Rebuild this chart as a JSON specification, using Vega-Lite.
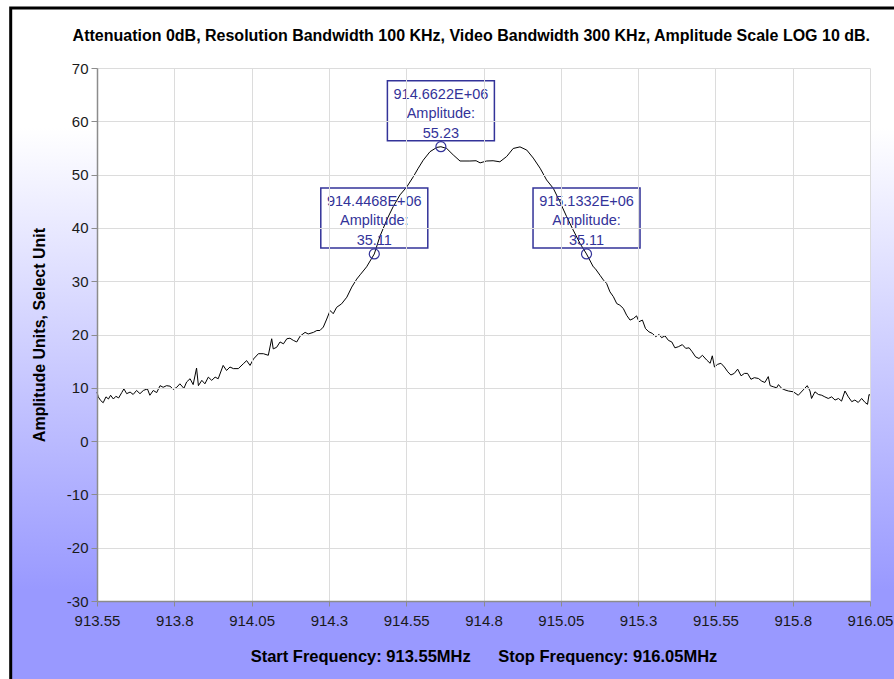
{
  "$schema": "https://vega.github.io/schema/vega-lite/v6.json",
  "width": 773,
  "height": 533,
  "autosize": {"type": "none"},
  "padding": {"left": 97, "top": 68, "right": 24, "bottom": 78},
  "background": "white",
  "config": {
    "view": {"stroke": null},
    "font": "Liberation Sans",
    "axis": {
      "grid": true, "gridColor": "#dcdcdc", "gridWidth": 1,
      "domainColor": "#8c8c8c", "domainWidth": 1.5,
      "tickColor": "#8c8c8c", "tickWidth": 1,
      "labelFont": "Liberation Sans", "labelFontSize": 15, "labelColor": "#1a1a1a",
      "labelOverlap": false, "labelFlush": false,
      "titleFont": "Liberation Sans", "titleFontWeight": "bold", "titleColor": "#000000"
    },
    "axisX": {"tickSize": 5, "labelPadding": 7, "titlePadding": 20, "titleFontSize": 16.5},
    "axisY": {"tickSize": 6, "labelPadding": 3, "titlePadding": 19, "titleFontSize": 16}
  },
  "title": {
    "text": "Attenuation 0dB, Resolution Bandwidth 100 KHz, Video Bandwidth 300 KHz, Amplitude Scale LOG 10 dB.",
    "anchor": "end",
    "frame": "group",
    "font": "Liberation Sans",
    "fontSize": 16,
    "fontWeight": "bold",
    "color": "#000000",
    "baseline": "bottom",
    "offset": -53
  },
  "datasets": {
    "trace": [
      {"f": 913.55, "a": 9.2}, {"f": 913.554, "a": 8.3}, {"f": 913.562, "a": 7.6}, {"f": 913.57, "a": 7.2},
      {"f": 913.579, "a": 8.3}, {"f": 913.587, "a": 7.9}, {"f": 913.594, "a": 8.6}, {"f": 913.603, "a": 7.9},
      {"f": 913.611, "a": 8.4}, {"f": 913.62, "a": 8.1}, {"f": 913.63, "a": 9.1}, {"f": 913.637, "a": 9.8},
      {"f": 913.646, "a": 8.9}, {"f": 913.657, "a": 9.2}, {"f": 913.667, "a": 8.75}, {"f": 913.678, "a": 9.5},
      {"f": 913.689, "a": 8.9}, {"f": 913.7, "a": 9.5}, {"f": 913.713, "a": 9.8}, {"f": 913.721, "a": 8.6},
      {"f": 913.732, "a": 9.5}, {"f": 913.743, "a": 9.1}, {"f": 913.754, "a": 10.4}, {"f": 913.764, "a": 10.1},
      {"f": 913.775, "a": 10.4}, {"f": 913.786, "a": 10.3}, {"f": 913.797, "a": 9.7}, {"f": 913.808, "a": 10.1},
      {"f": 913.818, "a": 10.75}, {"f": 913.831, "a": 9.9}, {"f": 913.84, "a": 11.1}, {"f": 913.851, "a": 11.7},
      {"f": 913.861, "a": 10.6}, {"f": 913.872, "a": 13.7}, {"f": 913.878, "a": 10.4}, {"f": 913.889, "a": 11.4},
      {"f": 913.899, "a": 10.75}, {"f": 913.91, "a": 12.0}, {"f": 913.921, "a": 11.4}, {"f": 913.932, "a": 12.0},
      {"f": 913.942, "a": 11.7}, {"f": 913.958, "a": 14.2}, {"f": 913.969, "a": 13.25}, {"f": 913.98, "a": 13.9},
      {"f": 913.991, "a": 13.6}, {"f": 914.007, "a": 13.6}, {"f": 914.023, "a": 14.5}, {"f": 914.034, "a": 15.1},
      {"f": 914.045, "a": 14.2}, {"f": 914.056, "a": 15.4}, {"f": 914.072, "a": 16.4}, {"f": 914.088, "a": 16.4},
      {"f": 914.104, "a": 16.1}, {"f": 914.115, "a": 19.2}, {"f": 914.12, "a": 17.3}, {"f": 914.131, "a": 17.6},
      {"f": 914.142, "a": 18.6}, {"f": 914.153, "a": 18.25}, {"f": 914.164, "a": 19.2}, {"f": 914.174, "a": 19.3},
      {"f": 914.185, "a": 18.9}, {"f": 914.196, "a": 18.6}, {"f": 914.207, "a": 19.7}, {"f": 914.223, "a": 20.4},
      {"f": 914.233, "a": 20.1}, {"f": 914.25, "a": 20.4}, {"f": 914.261, "a": 20.75}, {"f": 914.271, "a": 20.75},
      {"f": 914.282, "a": 21.4}, {"f": 914.293, "a": 22.9}, {"f": 914.304, "a": 24.5}, {"f": 914.314, "a": 23.9},
      {"f": 914.325, "a": 25.1}, {"f": 914.341, "a": 25.75}, {"f": 914.358, "a": 27.0}, {"f": 914.374, "a": 28.9},
      {"f": 914.39, "a": 30.4}, {"f": 914.401, "a": 31.2}, {"f": 914.422, "a": 32.7}, {"f": 914.4468, "a": 35.11},
      {"f": 914.465, "a": 38.4}, {"f": 914.487, "a": 41.5}, {"f": 914.508, "a": 44.0}, {"f": 914.53, "a": 46.2},
      {"f": 914.552, "a": 47.7}, {"f": 914.573, "a": 49.6}, {"f": 914.589, "a": 51.2}, {"f": 914.605, "a": 52.7},
      {"f": 914.627, "a": 54.3}, {"f": 914.649, "a": 55.1}, {"f": 914.6622, "a": 55.23}, {"f": 914.681, "a": 54.9},
      {"f": 914.702, "a": 53.7}, {"f": 914.724, "a": 52.55}, {"f": 914.756, "a": 52.55}, {"f": 914.776, "a": 52.6},
      {"f": 914.789, "a": 52.2}, {"f": 914.81, "a": 52.55}, {"f": 914.831, "a": 52.6}, {"f": 914.853, "a": 52.4},
      {"f": 914.875, "a": 53.4}, {"f": 914.896, "a": 54.9}, {"f": 914.918, "a": 55.2}, {"f": 914.94, "a": 54.6},
      {"f": 914.961, "a": 53.1}, {"f": 914.983, "a": 51.2}, {"f": 915.004, "a": 49.0}, {"f": 915.026, "a": 47.4},
      {"f": 915.047, "a": 44.9}, {"f": 915.069, "a": 42.1}, {"f": 915.09, "a": 39.6}, {"f": 915.112, "a": 37.1},
      {"f": 915.1332, "a": 35.11}, {"f": 915.155, "a": 32.7}, {"f": 915.161, "a": 32.4}, {"f": 915.177, "a": 31.1},
      {"f": 915.188, "a": 30.2}, {"f": 915.198, "a": 29.6}, {"f": 915.209, "a": 28.0}, {"f": 915.22, "a": 27.1},
      {"f": 915.231, "a": 25.8}, {"f": 915.241, "a": 25.5}, {"f": 915.252, "a": 24.9}, {"f": 915.263, "a": 23.6},
      {"f": 915.274, "a": 22.7}, {"f": 915.285, "a": 23.0}, {"f": 915.295, "a": 23.5}, {"f": 915.303, "a": 22.4},
      {"f": 915.314, "a": 22.7}, {"f": 915.324, "a": 21.1}, {"f": 915.335, "a": 20.5}, {"f": 915.346, "a": 20.2},
      {"f": 915.357, "a": 19.6}, {"f": 915.368, "a": 20.0}, {"f": 915.376, "a": 19.4}, {"f": 915.387, "a": 19.75},
      {"f": 915.398, "a": 18.9}, {"f": 915.409, "a": 18.6}, {"f": 915.419, "a": 17.5}, {"f": 915.43, "a": 17.7},
      {"f": 915.443, "a": 18.1}, {"f": 915.454, "a": 17.4}, {"f": 915.465, "a": 17.5}, {"f": 915.475, "a": 16.75},
      {"f": 915.486, "a": 15.8}, {"f": 915.497, "a": 15.5}, {"f": 915.508, "a": 16.1}, {"f": 915.522, "a": 15.2},
      {"f": 915.533, "a": 14.6}, {"f": 915.54, "a": 16.0}, {"f": 915.547, "a": 13.9}, {"f": 915.557, "a": 14.4},
      {"f": 915.568, "a": 14.6}, {"f": 915.579, "a": 13.9}, {"f": 915.59, "a": 13.0}, {"f": 915.6, "a": 12.4},
      {"f": 915.611, "a": 12.7}, {"f": 915.622, "a": 13.5}, {"f": 915.633, "a": 12.25}, {"f": 915.644, "a": 12.7},
      {"f": 915.654, "a": 12.7}, {"f": 915.665, "a": 11.6}, {"f": 915.676, "a": 11.9}, {"f": 915.689, "a": 11.75},
      {"f": 915.7, "a": 11.25}, {"f": 915.71, "a": 11.0}, {"f": 915.721, "a": 12.1}, {"f": 915.727, "a": 10.4},
      {"f": 915.737, "a": 10.2}, {"f": 915.748, "a": 10.0}, {"f": 915.754, "a": 10.6}, {"f": 915.764, "a": 9.9},
      {"f": 915.775, "a": 9.6}, {"f": 915.786, "a": 9.4}, {"f": 915.802, "a": 9.25}, {"f": 915.818, "a": 8.6},
      {"f": 915.834, "a": 9.6}, {"f": 915.847, "a": 10.4}, {"f": 915.856, "a": 9.4}, {"f": 915.861, "a": 8.0},
      {"f": 915.872, "a": 9.25}, {"f": 915.883, "a": 8.75}, {"f": 915.894, "a": 8.6}, {"f": 915.904, "a": 8.3},
      {"f": 915.915, "a": 8.0}, {"f": 915.926, "a": 8.3}, {"f": 915.937, "a": 7.7}, {"f": 915.948, "a": 8.0},
      {"f": 915.958, "a": 7.5}, {"f": 915.969, "a": 9.4}, {"f": 915.98, "a": 8.3}, {"f": 915.991, "a": 7.4},
      {"f": 916.001, "a": 7.7}, {"f": 916.012, "a": 7.25}, {"f": 916.023, "a": 8.0}, {"f": 916.034, "a": 7.25},
      {"f": 916.042, "a": 6.9}, {"f": 916.047, "a": 8.75}, {"f": 916.05, "a": 8.6}
    ],
    "markers": [
      {"f": 914.4468, "a": 35.11, "label": "914.4468E+06\nAmplitude:\n35.11"},
      {"f": 914.6622, "a": 55.23, "label": "914.6622E+06\nAmplitude:\n55.23"},
      {"f": 915.1332, "a": 35.11, "label": "915.1332E+06\nAmplitude:\n35.11"}
    ]
  },
  "layer": [
    {
      "data": {"values": [{}]},
      "mark": {
        "type": "rect",
        "stroke": "#000000",
        "strokeWidth": 3,
        "fill": {
          "gradient": "linear", "x1": 0, "y1": 0, "x2": 0, "y2": 1,
          "stops": [
            {"offset": 0, "color": "#ffffff"},
            {"offset": 0.177, "color": "#ffffff"},
            {"offset": 0.858, "color": "#9999ff"},
            {"offset": 1, "color": "#9999ff"}
          ]
        }
      },
      "encoding": {
        "x": {"datum": 913.2709, "type": "quantitative", "scale": {"domain": [913.55, 916.05], "nice": false, "zero": false},
          "axis": {"title": "Start Frequency: 913.55MHz\u00a0\u00a0\u00a0\u00a0\u00a0\u00a0Stop Frequency: 916.05MHz", "values": [913.55, 913.8, 914.05, 914.3, 914.55, 914.8, 915.05, 915.3, 915.55, 915.8, 916.05], "labelExpr": "'' + datum.value", "zindex": 1}},
        "x2": {"datum": 916.25},
        "y": {"datum": 81.257, "type": "quantitative", "scale": {"domain": [-30, 70], "nice": false, "zero": false},
          "axis": {"title": "Amplitude Units, Select Unit", "values": [-30, -20, -10, 0, 10, 20, 30, 40, 50, 60, 70], "labelExpr": "'' + datum.value", "zindex": 1}},
        "y2": {"datum": -46}
      }
    },
    {
      "data": {"values": [{}]},
      "mark": {"type": "rect", "fill": "#ffffff"},
      "encoding": {
        "x": {"datum": 913.55, "type": "quantitative", "scale": {"domain": [913.55, 916.05], "nice": false, "zero": false},
          "axis": {"title": "Start Frequency: 913.55MHz\u00a0\u00a0\u00a0\u00a0\u00a0\u00a0Stop Frequency: 916.05MHz", "values": [913.55, 913.8, 914.05, 914.3, 914.55, 914.8, 915.05, 915.3, 915.55, 915.8, 916.05], "labelExpr": "'' + datum.value", "zindex": 1}},
        "x2": {"datum": 916.05},
        "y": {"datum": -30, "type": "quantitative", "scale": {"domain": [-30, 70], "nice": false, "zero": false},
          "axis": {"title": "Amplitude Units, Select Unit", "values": [-30, -20, -10, 0, 10, 20, 30, 40, 50, 60, 70], "labelExpr": "'' + datum.value", "zindex": 1}},
        "y2": {"datum": 70}
      }
    },
    {
      "data": {"name": "trace"},
      "mark": {"type": "line", "color": "#000000", "strokeWidth": 1},
      "encoding": {
        "x": {"field": "f", "type": "quantitative", "scale": {"domain": [913.55, 916.05], "nice": false, "zero": false},
          "axis": {"title": "Start Frequency: 913.55MHz\u00a0\u00a0\u00a0\u00a0\u00a0\u00a0Stop Frequency: 916.05MHz", "values": [913.55, 913.8, 914.05, 914.3, 914.55, 914.8, 915.05, 915.3, 915.55, 915.8, 916.05], "labelExpr": "'' + datum.value", "zindex": 1}},
        "y": {"field": "a", "type": "quantitative", "scale": {"domain": [-30, 70], "nice": false, "zero": false},
          "axis": {"title": "Amplitude Units, Select Unit", "values": [-30, -20, -10, 0, 10, 20, 30, 40, 50, 60, 70], "labelExpr": "'' + datum.value", "zindex": 1}}
      }
    },
    {
      "data": {"name": "markers"},
      "mark": {"type": "point", "shape": "circle", "size": 100, "filled": false, "stroke": "#333399", "color": "#333399", "strokeWidth": 1.2, "opacity": 1},
      "encoding": {
        "x": {"field": "f", "type": "quantitative", "scale": {"domain": [913.55, 916.05], "nice": false, "zero": false},
          "axis": {"title": "Start Frequency: 913.55MHz\u00a0\u00a0\u00a0\u00a0\u00a0\u00a0Stop Frequency: 916.05MHz", "values": [913.55, 913.8, 914.05, 914.3, 914.55, 914.8, 915.05, 915.3, 915.55, 915.8, 916.05], "labelExpr": "'' + datum.value", "zindex": 1}},
        "y": {"field": "a", "type": "quantitative", "scale": {"domain": [-30, 70], "nice": false, "zero": false},
          "axis": {"title": "Amplitude Units, Select Unit", "values": [-30, -20, -10, 0, 10, 20, 30, 40, 50, 60, 70], "labelExpr": "'' + datum.value", "zindex": 1}}
      }
    },
    {
      "data": {"name": "markers"},
      "mark": {"type": "point", "shape": "M-1.07,-1.32H1.07V-0.12H-1.07Z", "size": 10000, "filled": false, "stroke": "#333399", "color": "#333399", "strokeWidth": 1.5, "opacity": 1},
      "encoding": {
        "x": {"field": "f", "type": "quantitative", "scale": {"domain": [913.55, 916.05], "nice": false, "zero": false},
          "axis": {"title": "Start Frequency: 913.55MHz\u00a0\u00a0\u00a0\u00a0\u00a0\u00a0Stop Frequency: 916.05MHz", "values": [913.55, 913.8, 914.05, 914.3, 914.55, 914.8, 915.05, 915.3, 915.55, 915.8, 916.05], "labelExpr": "'' + datum.value", "zindex": 1}},
        "y": {"field": "a", "type": "quantitative", "scale": {"domain": [-30, 70], "nice": false, "zero": false},
          "axis": {"title": "Amplitude Units, Select Unit", "values": [-30, -20, -10, 0, 10, 20, 30, 40, 50, 60, 70], "labelExpr": "'' + datum.value", "zindex": 1}}
      }
    },
    {
      "data": {"name": "markers"},
      "mark": {"type": "text", "lineBreak": "\n", "align": "center", "baseline": "middle", "dy": -52, "font": "Liberation Sans", "fontSize": 14.5, "lineHeight": 19.5, "color": "#333399"},
      "encoding": {
        "x": {"field": "f", "type": "quantitative", "scale": {"domain": [913.55, 916.05], "nice": false, "zero": false},
          "axis": {"title": "Start Frequency: 913.55MHz\u00a0\u00a0\u00a0\u00a0\u00a0\u00a0Stop Frequency: 916.05MHz", "values": [913.55, 913.8, 914.05, 914.3, 914.55, 914.8, 915.05, 915.3, 915.55, 915.8, 916.05], "labelExpr": "'' + datum.value", "zindex": 1}},
        "y": {"field": "a", "type": "quantitative", "scale": {"domain": [-30, 70], "nice": false, "zero": false},
          "axis": {"title": "Amplitude Units, Select Unit", "values": [-30, -20, -10, 0, 10, 20, 30, 40, 50, 60, 70], "labelExpr": "'' + datum.value", "zindex": 1}},
        "text": {"field": "label", "type": "nominal"}
      }
    }
  ]
}
